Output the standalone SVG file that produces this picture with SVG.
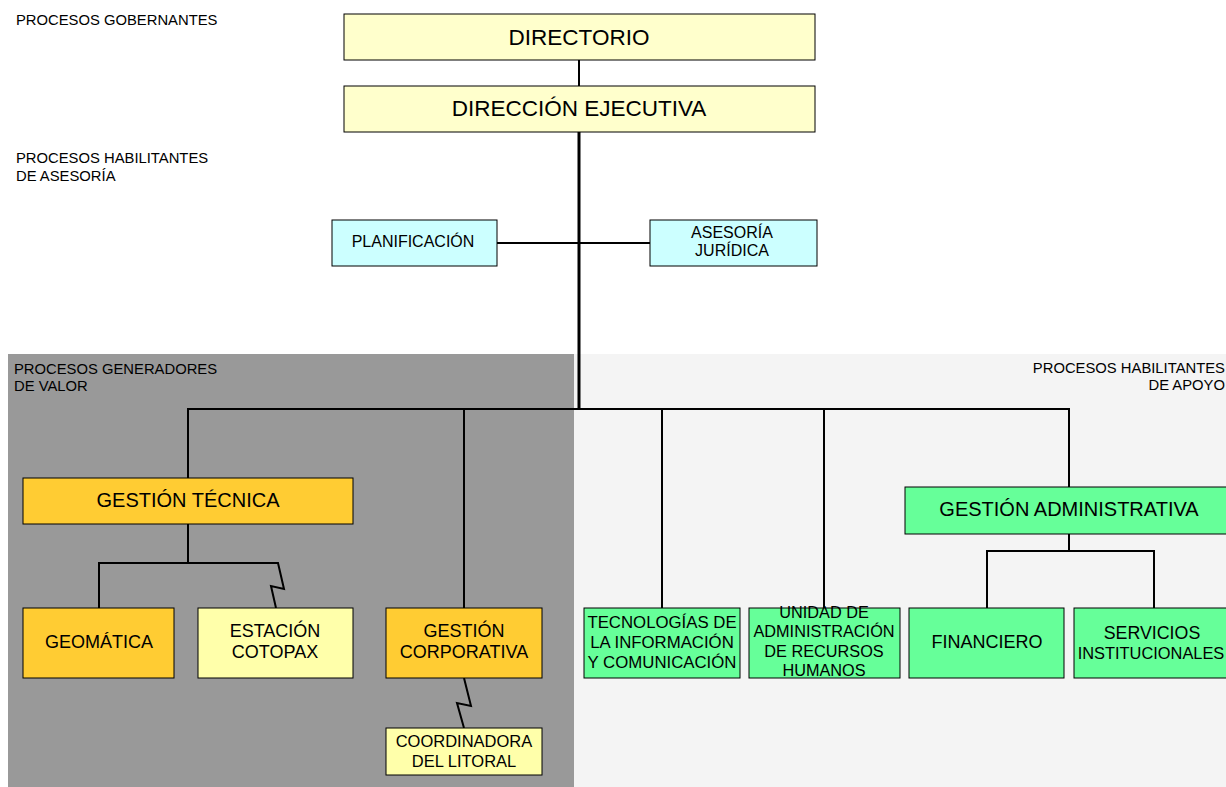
<svg xmlns="http://www.w3.org/2000/svg" width="1226" height="787" viewBox="0 0 1226 787">
<style>
text{font-family:"Liberation Sans",Arial,sans-serif;fill:#000}
.lbl{font-size:14.8px}
.box{stroke:#000;stroke-width:1}
.gob{fill:#FFFFCC}
.ase{fill:#CCFFFF}
.org{fill:#FFCC33}
.lye{fill:#FFFFAA}
.grn{fill:#66FF99}
.c{text-anchor:middle}
.ln{fill:none;stroke:#000;stroke-width:2}
</style>
<rect x="0" y="0" width="1226" height="787" fill="#FFFFFF"/>
<g id="regions">
<rect x="8" y="354" width="566" height="433" fill="#999999"/>
<rect x="574" y="354" width="652" height="433" fill="#F4F4F4"/>
</g>
<g id="labels">
<text class="lbl" x="16" y="25">PROCESOS GOBERNANTES</text>
<text class="lbl" x="16" y="163">PROCESOS HABILITANTES</text>
<text class="lbl" x="16" y="181">DE ASESORÍA</text>
<text class="lbl" x="14" y="374">PROCESOS GENERADORES</text>
<text class="lbl" x="14" y="391">DE VALOR</text>
<text class="lbl" x="1225" y="373" text-anchor="end">PROCESOS HABILITANTES</text>
<text class="lbl" x="1225" y="390" text-anchor="end">DE APOYO</text>
</g>
<g id="connectors">
<line class="ln" x1="579" y1="60" x2="579" y2="86"/>
<line x1="579" y1="132" x2="579" y2="410" stroke="#000" stroke-width="3"/>
<line class="ln" x1="497" y1="243" x2="650" y2="243"/>
<polyline class="ln" points="188,478 188,409 1069,409 1069,487"/>
<line class="ln" x1="464" y1="409" x2="464" y2="608"/>
<line class="ln" x1="662" y1="409" x2="662" y2="608"/>
<line class="ln" x1="824" y1="409" x2="824" y2="608"/>
<polyline class="ln" points="188,524 188,563"/>
<polyline class="ln" points="99,608 99,563 278,563 284,589 271,586 276,608"/>
<polyline class="ln" points="464,678 471,706 457,703 464,728"/>
<polyline class="ln" points="1069,534 1069,551"/>
<polyline class="ln" points="987,608 987,551 1154,551 1154,608"/>
</g>
<g id="directorio">
<rect class="box gob" x="344" y="14" width="471" height="46"/>
<text class="c" x="579" y="45" font-size="22.5">DIRECTORIO</text>
</g>
<g id="direccion-ejecutiva">
<rect class="box gob" x="344" y="86" width="471" height="46"/>
<text class="c" x="579" y="115.5" font-size="22.5">DIRECCIÓN EJECUTIVA</text>
</g>
<g id="planificacion">
<rect class="box ase" x="332" y="220" width="165" height="46"/>
<text class="c" x="413" y="247" font-size="16">PLANIFICACIÓN</text>
</g>
<g id="asesoria-juridica">
<rect class="box ase" x="650" y="220" width="167" height="46"/>
<text class="c" x="732" y="238" font-size="16">ASESORÍA</text>
<text class="c" x="732" y="256" font-size="16">JURÍDICA</text>
</g>
<g id="gestion-tecnica">
<rect class="box org" x="23" y="478" width="330" height="46"/>
<text class="c" x="188" y="507" font-size="20">GESTIÓN TÉCNICA</text>
</g>
<g id="geomatica">
<rect class="box org" x="23" y="608" width="151" height="70"/>
<text class="c" x="99" y="648" font-size="18">GEOMÁTICA</text>
</g>
<g id="estacion-cotopax">
<rect class="box lye" x="198" y="608" width="155" height="70"/>
<text class="c" x="275" y="637" font-size="18">ESTACIÓN</text>
<text class="c" x="275" y="658" font-size="18">COTOPAX</text>
</g>
<g id="gestion-corporativa">
<rect class="box org" x="386" y="608" width="156" height="70"/>
<text class="c" x="464" y="637" font-size="18">GESTIÓN</text>
<text class="c" x="464" y="658" font-size="18">CORPORATIVA</text>
</g>
<g id="coordinadora-litoral">
<rect class="box lye" x="386" y="728" width="156" height="47"/>
<text class="c" x="464" y="747" font-size="16.5">COORDINADORA</text>
<text class="c" x="464" y="767" font-size="16.5">DEL LITORAL</text>
</g>
<g id="tecnologias">
<rect class="box grn" x="584" y="608" width="156" height="70"/>
<text class="c" x="662" y="628" font-size="16.8">TECNOLOGÍAS DE</text>
<text class="c" x="662" y="648" font-size="16.8">LA INFORMACIÓN</text>
<text class="c" x="662" y="668" font-size="16.8">Y COMUNICACIÓN</text>
</g>
<g id="talento-humano">
<rect class="box grn" x="749" y="608" width="151" height="70"/>
<text class="c" x="824" y="618" font-size="16.3">UNIDAD DE</text>
<text class="c" x="824" y="637" font-size="16.3">ADMINISTRACIÓN</text>
<text class="c" x="824" y="657" font-size="16.3">DE RECURSOS</text>
<text class="c" x="824" y="676" font-size="16.3">HUMANOS</text>
</g>
<g id="gestion-administrativa">
<rect class="box grn" x="905" y="487" width="328" height="47"/>
<text class="c" x="1069" y="516" font-size="20">GESTIÓN ADMINISTRATIVA</text>
</g>
<g id="financiero">
<rect class="box grn" x="909" y="608" width="155" height="70"/>
<text class="c" x="987" y="648" font-size="18">FINANCIERO</text>
</g>
<g id="servicios-institucionales">
<rect class="box grn" x="1074" y="608" width="160" height="70"/>
<text class="c" x="1152" y="639" font-size="17.8">SERVICIOS</text>
<text class="c" x="1151" y="659" font-size="16.4">INSTITUCIONALES</text>
</g>
</svg>
